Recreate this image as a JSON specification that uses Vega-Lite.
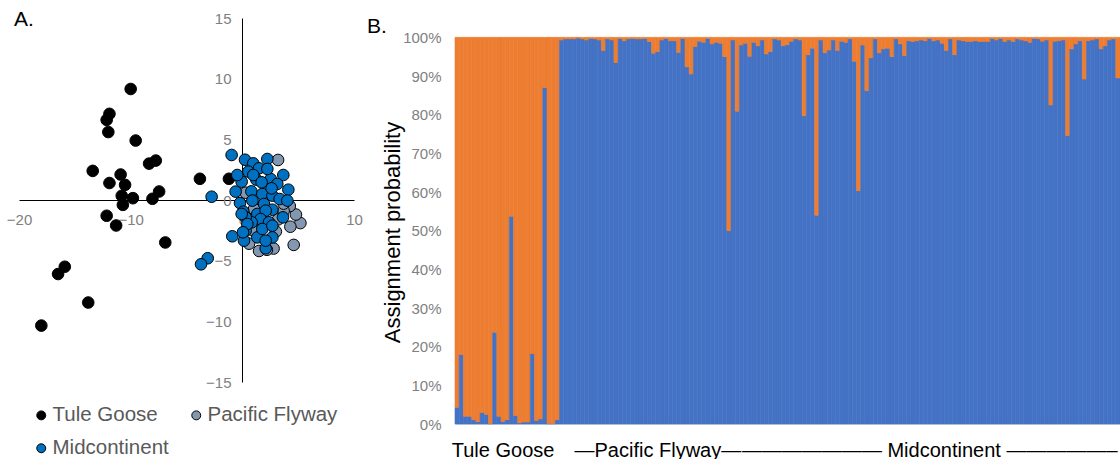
{
  "$schema": "https://vega.github.io/schema/vega-lite/v6.json",
  "background": "white",
  "autosize": {"type": "pad"},
  "padding": {"left": 6, "top": 9, "right": 0, "bottom": 0},
  "bounds": "flush",
  "spacing": 101,
  "config": {"view": {"stroke": null}, "font": "Liberation Sans"},
  "resolve": {"scale": {"color": "independent", "stroke": "independent"}, "legend": {"color": "independent"}},
  "hconcat": [
    {
      "width": 335,
      "height": 364,
      "title": {"text": "A.", "anchor": "start", "frame": "group", "fontSize": 21, "fontWeight": "normal", "color": "black", "dx": -5, "offset": -19},
      "data": {"values": [
        {"pop": "Tule Goose", "pc1": -10.0, "pc2": 9.15},
        {"pop": "Tule Goose", "pc1": -11.9, "pc2": 7.1},
        {"pop": "Tule Goose", "pc1": -12.15, "pc2": 6.6},
        {"pop": "Tule Goose", "pc1": -12.0, "pc2": 5.6},
        {"pop": "Tule Goose", "pc1": -9.55, "pc2": 4.9},
        {"pop": "Tule Goose", "pc1": -13.4, "pc2": 2.4},
        {"pop": "Tule Goose", "pc1": -10.9, "pc2": 2.1},
        {"pop": "Tule Goose", "pc1": -8.35, "pc2": 3.0},
        {"pop": "Tule Goose", "pc1": -7.75, "pc2": 3.25},
        {"pop": "Tule Goose", "pc1": -11.9, "pc2": 1.4},
        {"pop": "Tule Goose", "pc1": -10.5, "pc2": 1.25},
        {"pop": "Tule Goose", "pc1": -10.8, "pc2": 0.35},
        {"pop": "Tule Goose", "pc1": -9.8, "pc2": 0.15},
        {"pop": "Tule Goose", "pc1": -7.45, "pc2": 0.7},
        {"pop": "Tule Goose", "pc1": -8.05, "pc2": 0.1},
        {"pop": "Tule Goose", "pc1": -10.7, "pc2": -0.4},
        {"pop": "Tule Goose", "pc1": -3.8, "pc2": 1.75},
        {"pop": "Tule Goose", "pc1": -1.2, "pc2": 1.75},
        {"pop": "Tule Goose", "pc1": -12.15, "pc2": -1.3},
        {"pop": "Tule Goose", "pc1": -11.3, "pc2": -2.1},
        {"pop": "Tule Goose", "pc1": -6.9, "pc2": -3.5},
        {"pop": "Tule Goose", "pc1": -15.9, "pc2": -5.5},
        {"pop": "Tule Goose", "pc1": -16.5, "pc2": -6.1},
        {"pop": "Tule Goose", "pc1": -13.8, "pc2": -8.45},
        {"pop": "Tule Goose", "pc1": -18.0, "pc2": -10.35},
        {"pop": "Pacific Flyway", "pc1": 3.2, "pc2": 3.3},
        {"pop": "Pacific Flyway", "pc1": 4.6, "pc2": -3.7},
        {"pop": "Pacific Flyway", "pc1": 5.2, "pc2": -1.9},
        {"pop": "Pacific Flyway", "pc1": 4.8, "pc2": -1.2},
        {"pop": "Pacific Flyway", "pc1": 4.3, "pc2": -2.2},
        {"pop": "Pacific Flyway", "pc1": 4.25, "pc2": -0.5},
        {"pop": "Pacific Flyway", "pc1": 1.5, "pc2": -4.2},
        {"pop": "Pacific Flyway", "pc1": 2.8, "pc2": -4.0},
        {"pop": "Pacific Flyway", "pc1": 1.05, "pc2": -2.4},
        {"pop": "Pacific Flyway", "pc1": 0.3, "pc2": 0.6},
        {"pop": "Pacific Flyway", "pc1": 3.7, "pc2": -0.9},
        {"pop": "Pacific Flyway", "pc1": 0.95, "pc2": -2.5},
        {"pop": "Pacific Flyway", "pc1": 3.7, "pc2": -0.3},
        {"pop": "Pacific Flyway", "pc1": 1.05, "pc2": -0.74},
        {"pop": "Pacific Flyway", "pc1": 2.2, "pc2": -4.1},
        {"pop": "Pacific Flyway", "pc1": 3.0, "pc2": -2.6},
        {"pop": "Pacific Flyway", "pc1": 2.3, "pc2": 1.1},
        {"pop": "Pacific Flyway", "pc1": 1.4, "pc2": 0.1},
        {"pop": "Pacific Flyway", "pc1": 3.2, "pc2": -1.6},
        {"pop": "Pacific Flyway", "pc1": 0.6, "pc2": -3.6},
        {"pop": "Midcontinent", "pc1": -0.96, "pc2": 3.71},
        {"pop": "Midcontinent", "pc1": 0.24, "pc2": 3.32},
        {"pop": "Midcontinent", "pc1": 0.98, "pc2": 3.02},
        {"pop": "Midcontinent", "pc1": 2.24, "pc2": 3.38},
        {"pop": "Midcontinent", "pc1": 3.67, "pc2": 2.06},
        {"pop": "Midcontinent", "pc1": 1.49, "pc2": 2.61},
        {"pop": "Midcontinent", "pc1": 0.54, "pc2": 2.34},
        {"pop": "Midcontinent", "pc1": -0.06, "pc2": 1.51},
        {"pop": "Midcontinent", "pc1": 1.25, "pc2": 1.68},
        {"pop": "Midcontinent", "pc1": 2.54, "pc2": 1.73},
        {"pop": "Midcontinent", "pc1": 3.13, "pc2": 1.32},
        {"pop": "Midcontinent", "pc1": 4.12, "pc2": 0.85},
        {"pop": "Midcontinent", "pc1": -0.6, "pc2": 0.69},
        {"pop": "Midcontinent", "pc1": 0.81, "pc2": 0.71},
        {"pop": "Midcontinent", "pc1": 1.79, "pc2": 0.49},
        {"pop": "Midcontinent", "pc1": 2.69, "pc2": 0.36},
        {"pop": "Midcontinent", "pc1": 3.34, "pc2": 0.08},
        {"pop": "Midcontinent", "pc1": -0.21, "pc2": -0.25},
        {"pop": "Midcontinent", "pc1": 0.9, "pc2": -0.05},
        {"pop": "Midcontinent", "pc1": 1.94, "pc2": -0.33},
        {"pop": "Midcontinent", "pc1": 2.69, "pc2": -0.8},
        {"pop": "Midcontinent", "pc1": 3.64, "pc2": -1.43},
        {"pop": "Midcontinent", "pc1": 0.09, "pc2": -0.96},
        {"pop": "Midcontinent", "pc1": 1.34, "pc2": -1.15},
        {"pop": "Midcontinent", "pc1": 2.09, "pc2": -0.88},
        {"pop": "Midcontinent", "pc1": 1.64, "pc2": -1.57},
        {"pop": "Midcontinent", "pc1": 0.84, "pc2": -1.84},
        {"pop": "Midcontinent", "pc1": 2.39, "pc2": -1.84},
        {"pop": "Midcontinent", "pc1": -0.9, "pc2": -2.99},
        {"pop": "Midcontinent", "pc1": 0.15, "pc2": -3.35},
        {"pop": "Midcontinent", "pc1": 1.34, "pc2": -3.08},
        {"pop": "Midcontinent", "pc1": 2.69, "pc2": -3.08},
        {"pop": "Midcontinent", "pc1": 2.09, "pc2": -3.98},
        {"pop": "Midcontinent", "pc1": 0.3, "pc2": -2.53},
        {"pop": "Midcontinent", "pc1": 1.79, "pc2": -2.39},
        {"pop": "Midcontinent", "pc1": -2.75, "pc2": 0.27},
        {"pop": "Midcontinent", "pc1": 0.98, "pc2": 2.06},
        {"pop": "Midcontinent", "pc1": 1.73, "pc2": 1.46},
        {"pop": "Midcontinent", "pc1": 2.24, "pc2": 2.56},
        {"pop": "Midcontinent", "pc1": 0.3, "pc2": -1.43},
        {"pop": "Midcontinent", "pc1": -3.1, "pc2": -4.8},
        {"pop": "Midcontinent", "pc1": -3.7, "pc2": -5.3},
        {"pop": "Midcontinent", "pc1": 4.03, "pc2": -0.05},
        {"pop": "Midcontinent", "pc1": -0.45, "pc2": 2.06},
        {"pop": "Midcontinent", "pc1": 2.62, "pc2": 0.96},
        {"pop": "Midcontinent", "pc1": -0.06, "pc2": -1.15},
        {"pop": "Midcontinent", "pc1": 0.45, "pc2": -1.98},
        {"pop": "Midcontinent", "pc1": 0.06, "pc2": -2.66},
        {"pop": "Midcontinent", "pc1": 2.09, "pc2": -3.35},
        {"pop": "Midcontinent", "pc1": 2.69, "pc2": -2.12}
      ]},
      "mark": {"type": "point", "filled": true, "size": 135, "stroke": "black", "strokeWidth": 1, "opacity": 1},
      "encoding": {
        "x": {"field": "pc1", "type": "quantitative",
          "scale": {"domain": [-20, 10], "nice": false, "zero": false},
          "axis": {"orient": "bottom", "offset": -182, "values": [-20, -10, 0, 10], "title": null, "grid": false, "ticks": false, "domainColor": "black", "domainWidth": 1, "labelColor": "#808080", "labelFontSize": 15, "labelPadding": 12, "labelFlush": false}},
        "y": {"field": "pc2", "type": "quantitative",
          "scale": {"domain": [-15, 15], "nice": false, "zero": false},
          "axis": {"orient": "left", "offset": -223, "values": [-15, -10, -5, 0, 5, 10, 15], "title": null, "grid": false, "ticks": false, "domainColor": "black", "domainWidth": 1, "labelColor": "#808080", "labelFontSize": 15, "labelPadding": 11, "labelFlush": false}},
        "color": {"field": "pop", "type": "nominal",
          "scale": {"domain": ["Tule Goose", "Pacific Flyway", "Midcontinent"], "range": ["#000000", "#8497B0", "#0070C0"]},
          "legend": {"orient": "none", "legendX": 12, "legendY": 387, "direction": "horizontal", "columns": 2, "title": null, "labelFontSize": 20.5, "labelColor": "#595959", "symbolSize": 80, "symbolType": "circle", "symbolStrokeColor": "black", "symbolStrokeWidth": 1, "labelOffset": 1, "columnPadding": 17, "rowPadding": 12, "padding": 0, "labelLimit": 300}}
      }
    },
    {
      "width": 665,
      "height": 406,
      "title": {"text": "B.", "anchor": "start", "frame": "group", "fontSize": 21, "fontWeight": "normal", "color": "black", "dx": -88, "offset": -19},
      "data": {"values": [
        {"i": 0, "cluster1": 0.043, "cluster2": 0.957},
        {"i": 1, "cluster1": 0.18, "cluster2": 0.82},
        {"i": 2, "cluster1": 0.02, "cluster2": 0.98},
        {"i": 3, "cluster1": 0.02, "cluster2": 0.98},
        {"i": 4, "cluster1": 0.011, "cluster2": 0.989},
        {"i": 5, "cluster1": 0.006, "cluster2": 0.994},
        {"i": 6, "cluster1": 0.03, "cluster2": 0.97},
        {"i": 7, "cluster1": 0.025, "cluster2": 0.975},
        {"i": 8, "cluster1": 0.001, "cluster2": 0.999},
        {"i": 9, "cluster1": 0.237, "cluster2": 0.763},
        {"i": 10, "cluster1": 0.02, "cluster2": 0.98},
        {"i": 11, "cluster1": 0.006, "cluster2": 0.994},
        {"i": 12, "cluster1": 0.011, "cluster2": 0.989},
        {"i": 13, "cluster1": 0.537, "cluster2": 0.463},
        {"i": 14, "cluster1": 0.022, "cluster2": 0.978},
        {"i": 15, "cluster1": 0.003, "cluster2": 0.997},
        {"i": 16, "cluster1": 0.005, "cluster2": 0.995},
        {"i": 17, "cluster1": 0.005, "cluster2": 0.995},
        {"i": 18, "cluster1": 0.182, "cluster2": 0.818},
        {"i": 19, "cluster1": 0.009, "cluster2": 0.991},
        {"i": 20, "cluster1": 0.013, "cluster2": 0.987},
        {"i": 21, "cluster1": 0.87, "cluster2": 0.13},
        {"i": 22, "cluster1": 0.001, "cluster2": 0.999},
        {"i": 23, "cluster1": 0.001, "cluster2": 0.999},
        {"i": 24, "cluster1": 0.011, "cluster2": 0.989},
        {"i": 25, "cluster1": 0.993, "cluster2": 0.007},
        {"i": 26, "cluster1": 0.996, "cluster2": 0.004},
        {"i": 27, "cluster1": 0.996, "cluster2": 0.004},
        {"i": 28, "cluster1": 0.996, "cluster2": 0.004},
        {"i": 29, "cluster1": 0.998, "cluster2": 0.002},
        {"i": 30, "cluster1": 0.996, "cluster2": 0.004},
        {"i": 31, "cluster1": 0.993, "cluster2": 0.007},
        {"i": 32, "cluster1": 0.997, "cluster2": 0.003},
        {"i": 33, "cluster1": 0.996, "cluster2": 0.004},
        {"i": 34, "cluster1": 0.993, "cluster2": 0.007},
        {"i": 35, "cluster1": 0.966, "cluster2": 0.034},
        {"i": 36, "cluster1": 0.996, "cluster2": 0.004},
        {"i": 37, "cluster1": 0.993, "cluster2": 0.007},
        {"i": 38, "cluster1": 0.935, "cluster2": 0.065},
        {"i": 39, "cluster1": 0.997, "cluster2": 0.003},
        {"i": 40, "cluster1": 0.991, "cluster2": 0.009},
        {"i": 41, "cluster1": 0.996, "cluster2": 0.004},
        {"i": 42, "cluster1": 0.997, "cluster2": 0.003},
        {"i": 43, "cluster1": 0.996, "cluster2": 0.004},
        {"i": 44, "cluster1": 0.996, "cluster2": 0.004},
        {"i": 45, "cluster1": 0.997, "cluster2": 0.003},
        {"i": 46, "cluster1": 0.989, "cluster2": 0.011},
        {"i": 47, "cluster1": 0.959, "cluster2": 0.041},
        {"i": 48, "cluster1": 0.963, "cluster2": 0.037},
        {"i": 49, "cluster1": 0.993, "cluster2": 0.007},
        {"i": 50, "cluster1": 0.997, "cluster2": 0.003},
        {"i": 51, "cluster1": 0.991, "cluster2": 0.009},
        {"i": 52, "cluster1": 0.991, "cluster2": 0.009},
        {"i": 53, "cluster1": 0.961, "cluster2": 0.039},
        {"i": 54, "cluster1": 0.997, "cluster2": 0.003},
        {"i": 55, "cluster1": 0.924, "cluster2": 0.076},
        {"i": 56, "cluster1": 0.905, "cluster2": 0.095},
        {"i": 57, "cluster1": 0.976, "cluster2": 0.024},
        {"i": 58, "cluster1": 0.99, "cluster2": 0.01},
        {"i": 59, "cluster1": 0.987, "cluster2": 0.013},
        {"i": 60, "cluster1": 0.997, "cluster2": 0.003},
        {"i": 61, "cluster1": 0.983, "cluster2": 0.017},
        {"i": 62, "cluster1": 0.987, "cluster2": 0.013},
        {"i": 63, "cluster1": 0.985, "cluster2": 0.015},
        {"i": 64, "cluster1": 0.95, "cluster2": 0.05},
        {"i": 65, "cluster1": 0.5, "cluster2": 0.5},
        {"i": 66, "cluster1": 0.993, "cluster2": 0.007},
        {"i": 67, "cluster1": 0.809, "cluster2": 0.191},
        {"i": 68, "cluster1": 0.98, "cluster2": 0.02},
        {"i": 69, "cluster1": 0.985, "cluster2": 0.015},
        {"i": 70, "cluster1": 0.951, "cluster2": 0.049},
        {"i": 71, "cluster1": 0.987, "cluster2": 0.013},
        {"i": 72, "cluster1": 0.978, "cluster2": 0.022},
        {"i": 73, "cluster1": 0.993, "cluster2": 0.007},
        {"i": 74, "cluster1": 0.957, "cluster2": 0.043},
        {"i": 75, "cluster1": 0.963, "cluster2": 0.037},
        {"i": 76, "cluster1": 0.996, "cluster2": 0.004},
        {"i": 77, "cluster1": 0.993, "cluster2": 0.007},
        {"i": 78, "cluster1": 0.978, "cluster2": 0.022},
        {"i": 79, "cluster1": 0.981, "cluster2": 0.019},
        {"i": 80, "cluster1": 0.99, "cluster2": 0.01},
        {"i": 81, "cluster1": 0.996, "cluster2": 0.004},
        {"i": 82, "cluster1": 0.993, "cluster2": 0.007},
        {"i": 83, "cluster1": 0.797, "cluster2": 0.203},
        {"i": 84, "cluster1": 0.955, "cluster2": 0.045},
        {"i": 85, "cluster1": 0.972, "cluster2": 0.028},
        {"i": 86, "cluster1": 0.54, "cluster2": 0.46},
        {"i": 87, "cluster1": 0.993, "cluster2": 0.007},
        {"i": 88, "cluster1": 0.96, "cluster2": 0.04},
        {"i": 89, "cluster1": 0.967, "cluster2": 0.033},
        {"i": 90, "cluster1": 0.993, "cluster2": 0.007},
        {"i": 91, "cluster1": 0.966, "cluster2": 0.034},
        {"i": 92, "cluster1": 0.99, "cluster2": 0.01},
        {"i": 93, "cluster1": 0.987, "cluster2": 0.013},
        {"i": 94, "cluster1": 0.996, "cluster2": 0.004},
        {"i": 95, "cluster1": 0.938, "cluster2": 0.062},
        {"i": 96, "cluster1": 0.603, "cluster2": 0.397},
        {"i": 97, "cluster1": 0.98, "cluster2": 0.02},
        {"i": 98, "cluster1": 0.862, "cluster2": 0.138},
        {"i": 99, "cluster1": 0.947, "cluster2": 0.053},
        {"i": 100, "cluster1": 0.996, "cluster2": 0.004},
        {"i": 101, "cluster1": 0.96, "cluster2": 0.04},
        {"i": 102, "cluster1": 0.97, "cluster2": 0.03},
        {"i": 103, "cluster1": 0.972, "cluster2": 0.028},
        {"i": 104, "cluster1": 0.95, "cluster2": 0.05},
        {"i": 105, "cluster1": 0.996, "cluster2": 0.004},
        {"i": 106, "cluster1": 0.983, "cluster2": 0.017},
        {"i": 107, "cluster1": 0.953, "cluster2": 0.047},
        {"i": 108, "cluster1": 0.991, "cluster2": 0.009},
        {"i": 109, "cluster1": 0.989, "cluster2": 0.011},
        {"i": 110, "cluster1": 0.991, "cluster2": 0.009},
        {"i": 111, "cluster1": 0.993, "cluster2": 0.007},
        {"i": 112, "cluster1": 0.991, "cluster2": 0.009},
        {"i": 113, "cluster1": 0.997, "cluster2": 0.003},
        {"i": 114, "cluster1": 0.991, "cluster2": 0.009},
        {"i": 115, "cluster1": 0.993, "cluster2": 0.007},
        {"i": 116, "cluster1": 0.985, "cluster2": 0.015},
        {"i": 117, "cluster1": 0.966, "cluster2": 0.034},
        {"i": 118, "cluster1": 0.996, "cluster2": 0.004},
        {"i": 119, "cluster1": 0.955, "cluster2": 0.045},
        {"i": 120, "cluster1": 0.993, "cluster2": 0.007},
        {"i": 121, "cluster1": 0.991, "cluster2": 0.009},
        {"i": 122, "cluster1": 0.989, "cluster2": 0.011},
        {"i": 123, "cluster1": 0.989, "cluster2": 0.011},
        {"i": 124, "cluster1": 0.991, "cluster2": 0.009},
        {"i": 125, "cluster1": 0.989, "cluster2": 0.011},
        {"i": 126, "cluster1": 0.989, "cluster2": 0.011},
        {"i": 127, "cluster1": 0.989, "cluster2": 0.011},
        {"i": 128, "cluster1": 0.997, "cluster2": 0.003},
        {"i": 129, "cluster1": 0.993, "cluster2": 0.007},
        {"i": 130, "cluster1": 0.997, "cluster2": 0.003},
        {"i": 131, "cluster1": 0.989, "cluster2": 0.011},
        {"i": 132, "cluster1": 0.993, "cluster2": 0.007},
        {"i": 133, "cluster1": 0.989, "cluster2": 0.011},
        {"i": 134, "cluster1": 0.996, "cluster2": 0.004},
        {"i": 135, "cluster1": 0.993, "cluster2": 0.007},
        {"i": 136, "cluster1": 0.991, "cluster2": 0.009},
        {"i": 137, "cluster1": 0.987, "cluster2": 0.013},
        {"i": 138, "cluster1": 0.997, "cluster2": 0.003},
        {"i": 139, "cluster1": 0.996, "cluster2": 0.004},
        {"i": 140, "cluster1": 0.99, "cluster2": 0.01},
        {"i": 141, "cluster1": 0.993, "cluster2": 0.007},
        {"i": 142, "cluster1": 0.825, "cluster2": 0.175},
        {"i": 143, "cluster1": 0.99, "cluster2": 0.01},
        {"i": 144, "cluster1": 0.991, "cluster2": 0.009},
        {"i": 145, "cluster1": 0.993, "cluster2": 0.007},
        {"i": 146, "cluster1": 0.746, "cluster2": 0.254},
        {"i": 147, "cluster1": 0.97, "cluster2": 0.03},
        {"i": 148, "cluster1": 0.983, "cluster2": 0.017},
        {"i": 149, "cluster1": 0.991, "cluster2": 0.009},
        {"i": 150, "cluster1": 0.892, "cluster2": 0.108},
        {"i": 151, "cluster1": 0.991, "cluster2": 0.009},
        {"i": 152, "cluster1": 0.993, "cluster2": 0.007},
        {"i": 153, "cluster1": 0.996, "cluster2": 0.004},
        {"i": 154, "cluster1": 0.97, "cluster2": 0.03},
        {"i": 155, "cluster1": 0.978, "cluster2": 0.022},
        {"i": 156, "cluster1": 0.993, "cluster2": 0.007},
        {"i": 157, "cluster1": 0.996, "cluster2": 0.004},
        {"i": 158, "cluster1": 0.895, "cluster2": 0.105}
      ]},
      "transform": [{"fold": ["cluster1", "cluster2"], "as": ["cluster", "prob"]}],
      "mark": {"type": "bar", "strokeWidth": 0.6},
      "encoding": {
        "x": {"field": "i", "type": "ordinal",
          "scale": {"paddingInner": 0, "paddingOuter": 0},
          "axis": {"title": null, "ticks": false, "labelAngle": 0, "labelFontSize": 20, "labelColor": "black", "labelPadding": 16, "labelLimit": 1000, "labelOverlap": false, "labelBound": false, "domainColor": "#d9d9d9", "domainWidth": 1,
            "labelExpr": "datum.value == 11 ? 'Tule Goose' : datum.value == 48 ? '—Pacific Flyway—' : datum.value == 113 ? '——————— Midcontinent —————–' : ''"}},
        "y": {"field": "prob", "type": "quantitative", "stack": "normalize",
          "scale": {"domain": [0, 1.05], "nice": false},
          "axis": {"values": [0, 0.1, 0.2, 0.3, 0.4, 0.5, 0.6, 0.7, 0.8, 0.9, 1], "format": ".0%", "grid": false, "ticks": false, "domain": false, "labelFontSize": 15, "labelColor": "#808080", "labelPadding": 14,
            "title": "Assignment probability", "titleFontSize": 22, "titleFontWeight": "normal", "titleColor": "black", "titleAngle": 270, "titleAlign": "center", "titleBaseline": "middle", "titleX": -63, "titleY": 214}},
        "color": {"field": "cluster", "type": "nominal",
          "scale": {"domain": ["cluster1", "cluster2"], "range": ["#4472C4", "#ED7D31"]},
          "legend": null},
        "stroke": {"field": "cluster", "type": "nominal",
          "scale": {"domain": ["cluster1", "cluster2"], "range": ["#4472C4", "#ED7D31"]},
          "legend": null},
        "order": {"field": "cluster", "sort": "ascending"}
      }
    }
  ]
}
